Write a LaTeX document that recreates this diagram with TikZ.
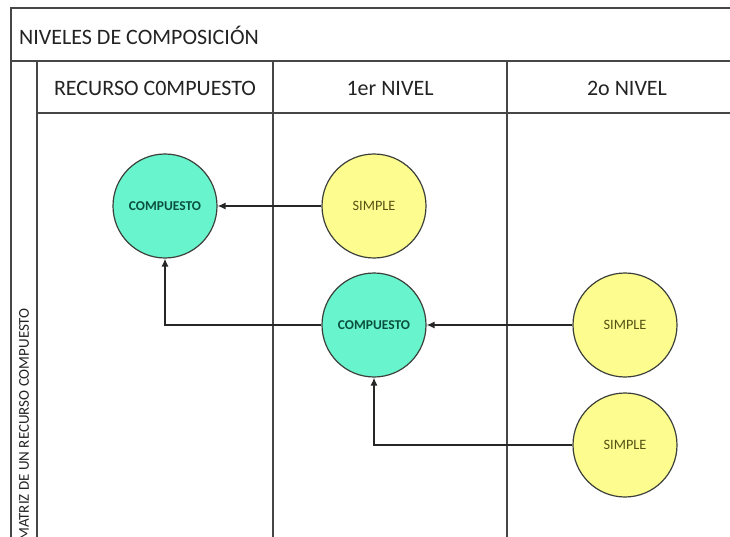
\documentclass[tikz,border=0pt]{standalone}
\usepackage{fontspec}
\setmainfont{Carlito}
\usetikzlibrary{arrows.meta}

\definecolor{gridline}{RGB}{70,70,70}
\definecolor{textgray}{RGB}{35,35,35}
\definecolor{compfill}{RGB}{104,244,204}
\definecolor{compText}{RGB}{10,80,62}
\definecolor{simpfill}{RGB}{253,252,142}
\definecolor{simpText}{RGB}{85,82,20}
\definecolor{ringline}{RGB}{60,64,58}

\tikzset{
  grid/.style={draw=gridline, line width=1.8pt},
  headtext/.style={font=\fontsize{22}{24}\selectfont, text=textgray, inner sep=0pt},
  compnode/.style={circle, draw=ringline, line width=1.2pt, fill=compfill,
    minimum size=104pt, inner sep=0pt, text=compText,
    font=\bfseries\fontsize{13.5}{15}\selectfont},
  simpnode/.style={circle, draw=ringline, line width=1.2pt, fill=simpfill,
    minimum size=104pt, inner sep=0pt, text=simpText,
    font=\fontsize{14.3}{16}\selectfont},
  link/.style={draw=black!85, line width=1.3pt, -{Latex[length=8pt,width=7pt]}}
}

\begin{document}
\begin{tikzpicture}[x=1pt, y=-1pt]
  \useasboundingbox (0,0) rectangle (730,537);
  \fill[white] (0,0) rectangle (730,537);

  % table frame and column rules
  \draw[grid] (730,8) -- (11,8) -- (11,545);
  \draw[grid] (11,61) -- (730,61);
  \draw[grid] (37,113) -- (730,113);
  \draw[grid] (37,61) -- (37,545);
  \draw[grid] (273,61) -- (273,545);
  \draw[grid] (507,61) -- (507,545);

  % title and column headings
  \node[headtext, anchor=west] (title) at (19,35) {NIVELES DE COMPOSICIÓN};
  \node[headtext] (h1) at (155,88) {RECURSO C0MPUESTO};
  \node[headtext] (h2) at (390,88) {1er NIVEL};
  \node[headtext] (h3) at (627,88) {2o NIVEL};
  \node[rotate=90, anchor=east, inner sep=0pt, text=textgray,
        font=\fontsize{15}{17}\selectfont] (side) at (24,308)
        {MATRIZ DE UN RECURSO COMPUESTO};

  % resources
  \node[compnode] (c1) at (165,206) {COMPUESTO};
  \node[simpnode] (s1) at (374,206) {SIMPLE};
  \node[compnode] (c2) at (374,325) {COMPUESTO};
  \node[simpnode] (s2) at (625,325) {SIMPLE};
  \node[simpnode] (s3) at (625,445) {SIMPLE};

  % composition links
  \draw[link] (s1.west) -- (c1.east);
  \draw[link] (c2.west) -| (c1.south);
  \draw[link] (s2.west) -- (c2.east);
  \draw[link] (s3.west) -| (c2.south);
\end{tikzpicture}
\end{document}
